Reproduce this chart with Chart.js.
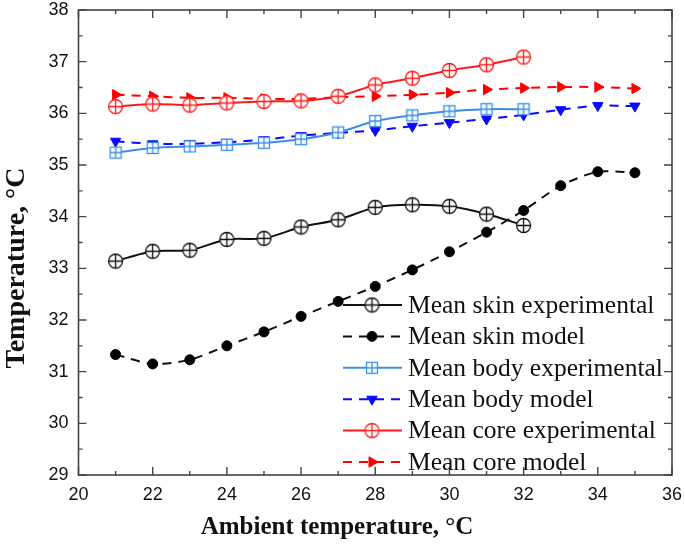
<!DOCTYPE html>
<html>
<head>
<meta charset="utf-8">
<script src="https://cdn.jsdelivr.net/npm/chart.js@4.4.0/dist/chart.umd.min.js"></script>
<style>
html, body { margin: 0; padding: 0; background: #fff; }
#wrap { width: 685px; height: 550px; }
</style>
</head>
<body>
<div id="wrap"><canvas id="myChartTemp" width="685" height="550"></canvas></div>
<script>
// ambient temperatures (x) and measured / modelled series
const temps = [21, 22, 23, 24, 25, 26, 27, 28, 29, 30, 31, 32, 33, 34, 35];
const skinExp = [33.14, 33.33, 33.35, 33.56, 33.58, 33.80, 33.94, 34.18, 34.23, 34.20, 34.05, 33.83];
const skinModel = [31.33, 31.15, 31.23, 31.50, 31.77, 32.07, 32.36, 32.65, 32.97, 33.32, 33.70, 34.12, 34.60, 34.87, 34.85];
const bodyExp = [35.24, 35.33, 35.36, 35.39, 35.43, 35.50, 35.63, 35.85, 35.96, 36.04, 36.08, 36.08];
const bodyModel = [35.46, 35.41, 35.41, 35.44, 35.49, 35.57, 35.62, 35.67, 35.75, 35.82, 35.89, 35.97, 36.07, 36.15, 36.14];
const coreExp = [36.13, 36.18, 36.16, 36.20, 36.23, 36.24, 36.33, 36.55, 36.68, 36.83, 36.94, 37.09];
const coreModel = [36.36, 36.33, 36.30, 36.30, 36.28, 36.28, 36.31, 36.33, 36.36, 36.40, 36.46, 36.49, 36.51, 36.51, 36.48];

const seriesNames = ['Mean skin experimental', 'Mean skin model', 'Mean body experimental',
  'Mean body model', 'Mean core experimental', 'Mean core model'];
const xTicks = [20, 22, 24, 26, 28, 30, 32, 34, 36];
const yTicks = [29, 30, 31, 32, 33, 34, 35, 36, 37, 38];

const pts = (vals) => vals.map((v, i) => ({ x: temps[i], y: v }));

// circle with a plus inside
function circlePlus(color) {
  const c = document.createElement('canvas');
  c.width = 17; c.height = 17;
  const g = c.getContext('2d');
  g.strokeStyle = color; g.lineWidth = 1.3; g.fillStyle = '#fff';
  g.beginPath(); g.arc(8.5, 8.5, 7, 0, Math.PI * 2); g.fill(); g.stroke();
  g.beginPath();
  g.moveTo(1.5, 8.5); g.lineTo(15.5, 8.5);
  g.moveTo(8.5, 1.5); g.lineTo(8.5, 15.5);
  g.stroke();
  return c;
}
// square with a plus inside
function squarePlus(color) {
  const c = document.createElement('canvas');
  c.width = 14; c.height = 14;
  const g = c.getContext('2d');
  g.strokeStyle = color; g.lineWidth = 1.3; g.fillStyle = '#fff';
  g.fillRect(1.5, 1.5, 11, 11); g.strokeRect(1.5, 1.5, 11, 11);
  g.beginPath();
  g.moveTo(1.5, 7); g.lineTo(12.5, 7);
  g.moveTo(7, 1.5); g.lineTo(7, 12.5);
  g.stroke();
  return c;
}

const dash = [9, 7];
const datasets = [
  { label: seriesNames[0], data: pts(skinExp), borderColor: '#111', backgroundColor: '#111',
    pointStyle: circlePlus('#111'), pointRadius: 7 },
  { label: seriesNames[1], data: pts(skinModel), borderColor: '#111', backgroundColor: '#000', borderDash: dash,
    pointStyle: 'circle', pointRadius: 5 },
  { label: seriesNames[2], data: pts(bodyExp), borderColor: '#3a8ee8', backgroundColor: '#3a8ee8',
    pointStyle: squarePlus('#3a8ee8'), pointRadius: 6 },
  { label: seriesNames[3], data: pts(bodyModel), borderColor: '#0a0aff', backgroundColor: '#0a0aff', borderDash: dash,
    pointStyle: 'triangle', pointRotation: 180, pointRadius: 6 },
  { label: seriesNames[4], data: pts(coreExp), borderColor: '#ff1a1a', backgroundColor: '#ff1a1a',
    pointStyle: circlePlus('#ff1a1a'), pointRadius: 7 },
  { label: seriesNames[5], data: pts(coreModel), borderColor: '#ff0000', backgroundColor: '#ff0000', borderDash: dash,
    pointStyle: 'triangle', pointRotation: 90, pointRadius: 6 }
];
datasets.forEach(d => {
  d.borderWidth = 2;
  d.tension = 0.25;
  d.pointBorderWidth = 1;
  d.pointBackgroundColor = d.backgroundColor;
  d.pointBorderColor = d.backgroundColor;
});

// frame, inward ticks, titles and legend
const framePlugin = {
  id: 'frame',
  afterDatasetsDraw(chart) {
    const ctx = chart.ctx;
    const { left, right, top, bottom } = chart.chartArea;
    const sx = chart.scales.x, sy = chart.scales.y;
    ctx.save();
    ctx.strokeStyle = '#444';
    ctx.lineWidth = 1.6;
    ctx.strokeRect(left, top, right - left, bottom - top);
    ctx.lineWidth = 1.4;
    ctx.beginPath();
    for (let v = 20; v <= 36; v += 1) {
      const px = sx.getPixelForValue(v);
      const len = v % 2 === 0 ? 8 : 4;
      ctx.moveTo(px, bottom); ctx.lineTo(px, bottom - len);
      ctx.moveTo(px, top); ctx.lineTo(px, top + len);
    }
    for (let v = 29; v <= 38; v += 0.5) {
      const py = sy.getPixelForValue(v);
      const len = v % 1 === 0 ? 8 : 4;
      ctx.moveTo(left, py); ctx.lineTo(left + len, py);
      ctx.moveTo(right, py); ctx.lineTo(right - len, py);
    }
    ctx.stroke();

    // axis titles
    ctx.fillStyle = '#111';
    ctx.textAlign = 'center';
    ctx.textBaseline = 'middle';
    ctx.font = 'bold 25px "Liberation Serif"';
    ctx.fillText('Ambient temperature, °C', 337, 528);
    ctx.save();
    ctx.translate(17, 268);
    ctx.rotate(-Math.PI / 2);
    ctx.font = 'bold 28px "Liberation Serif"';
    ctx.fillText('Temperature, °C', 0, 0);
    ctx.restore();

    // legend
    ctx.font = '25.5px "Liberation Serif"';
    ctx.textAlign = 'left';
    chart.data.datasets.forEach((d, i) => {
      const y = 305 + i * 31.4;
      ctx.save();
      ctx.strokeStyle = d.borderColor;
      ctx.lineWidth = 2;
      ctx.setLineDash(d.borderDash || []);
      ctx.beginPath(); ctx.moveTo(343, y); ctx.lineTo(402, y); ctx.stroke();
      ctx.setLineDash([]);
      ctx.fillStyle = d.backgroundColor;
      ctx.lineWidth = 1;
      Chart.helpers.drawPoint(ctx, { pointStyle: d.pointStyle, rotation: d.pointRotation || 0,
        radius: d.pointRadius, borderWidth: 1 }, 372, y);
      ctx.restore();
      ctx.fillStyle = '#111';
      ctx.fillText(d.label, 408, y + 1);
    });
    ctx.restore();
  }
};

new Chart(document.getElementById('myChartTemp').getContext('2d'), {
  type: 'line',
  data: { datasets: datasets },
  options: {
    responsive: false,
    animation: false,
    devicePixelRatio: 1,
    layout: { padding: { left: 0, right: 13, top: 10, bottom: 0 } },
    plugins: { legend: { display: false }, tooltip: { enabled: false } },
    scales: {
      x: {
        type: 'linear', min: 20, max: 36,
        grid: { display: false, drawTicks: false },
        border: { display: false },
        afterBuildTicks: (s) => { s.ticks = xTicks.map(v => ({ value: v })); },
        afterFit: (s) => { s.height = 75; s.paddingLeft = 0; s.paddingRight = 0; },
        ticks: { color: '#111', font: { family: '"Liberation Sans"', size: 18 }, padding: 9 }
      },
      y: {
        min: 29, max: 38,
        grid: { display: false, drawTicks: false },
        border: { display: false },
        afterBuildTicks: (s) => { s.ticks = yTicks.map(v => ({ value: v })); },
        afterFit: (s) => { s.width = 78.5; s.paddingTop = 0; s.paddingBottom = 0; },
        ticks: { color: '#111', font: { family: '"Liberation Sans"', size: 18 }, padding: 10 }
      }
    }
  },
  plugins: [framePlugin]
});
</script>
</body>
</html>
